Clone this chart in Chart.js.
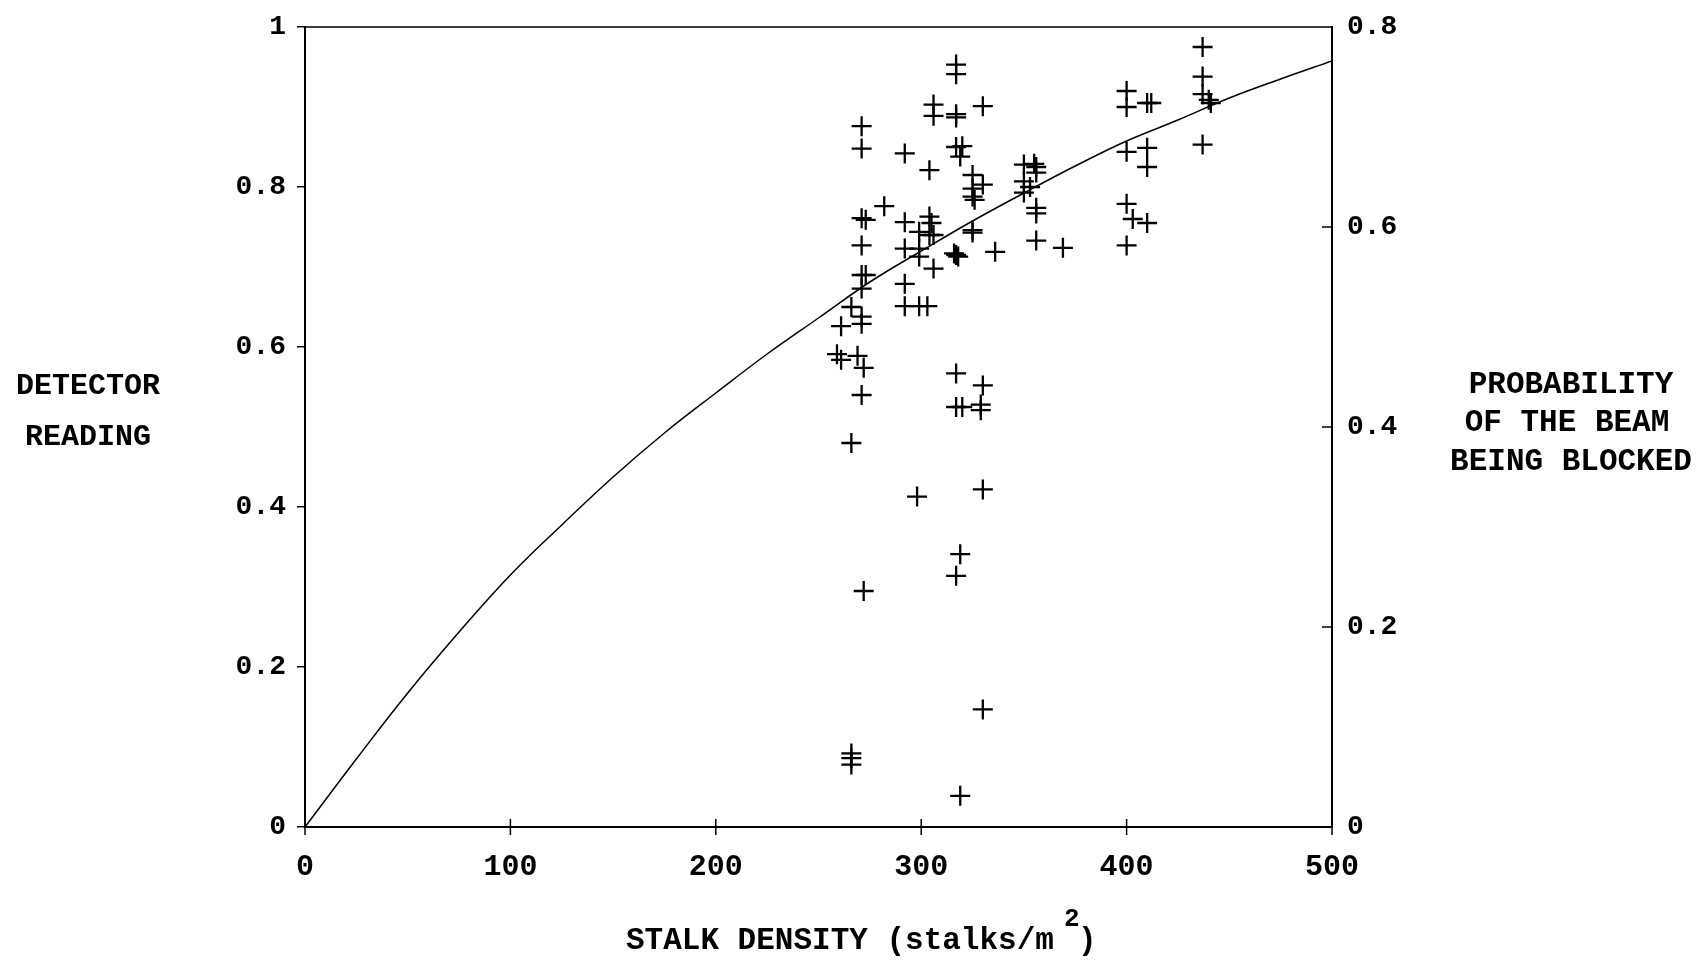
<!DOCTYPE html>
<html>
<head>
<meta charset="utf-8">
<title>Stalk density vs detector reading</title>
<script src="https://cdn.jsdelivr.net/npm/chart.js@4.4.1/dist/chart.umd.min.js"></script>
<style>
    html, body { margin: 0; padding: 0; background: #fff; }
    #wrap { position: relative; width: 1703px; height: 961px; }
</style>
</head>
<body>
<div id="wrap"><canvas id="densityChart"></canvas></div>
<script>
// ==================== data ====================

// measured points: stalk density (stalks/m2) and detector reading
const stalkDensity = [
    317, 317, 306, 306, 317, 317, 330,
    271, 271, 292, 304,
    317, 320, 319,
    325, 330, 325, 325, 326,
    350, 355, 356, 356, 350, 353, 350,
    356, 356, 356, 369, 336,
    282, 271, 273, 271,
    292, 304, 305, 304, 306, 299,
    292, 299, 299, 306,
    316, 317, 318, 325, 325,
    271, 273, 271, 292,
    292, 299, 303, 266, 271, 271, 261,
    259, 261, 269, 272, 271, 266,
    317, 330, 317, 320, 329, 329,
    298, 330, 319, 317, 272, 330, 266, 266, 266, 319,
    437, 437, 437, 440, 441, 437,
    400, 400, 410, 412, 400, 410, 410,
    400, 403, 410, 400
];
const detectorReading = [
    0.953, 0.941, 0.903, 0.889, 0.891, 0.887, 0.901,
    0.876, 0.848, 0.842, 0.821,
    0.850, 0.851, 0.838,
    0.815, 0.803, 0.798, 0.788, 0.784,
    0.828, 0.829, 0.825, 0.818, 0.807, 0.800, 0.793,
    0.774, 0.767, 0.733, 0.724, 0.719,
    0.776, 0.761, 0.759, 0.727,
    0.756, 0.763, 0.755, 0.740, 0.740, 0.744,
    0.723, 0.723, 0.713, 0.698,
    0.717, 0.715, 0.713, 0.746, 0.743,
    0.690, 0.690, 0.673, 0.679,
    0.651, 0.651, 0.651, 0.650, 0.638, 0.629, 0.626,
    0.591, 0.584, 0.589, 0.574, 0.540, 0.480,
    0.567, 0.552, 0.525, 0.525, 0.528, 0.521,
    0.413, 0.422, 0.341, 0.314, 0.295, 0.147, 0.092, 0.086, 0.078, 0.039,
    0.975, 0.938, 0.916, 0.909, 0.905, 0.853,
    0.920, 0.900, 0.905, 0.905, 0.844, 0.849, 0.825,
    0.779, 0.760, 0.755, 0.727
];

// probability of the beam being blocked (right axis)
const curveDensity = [0, 25, 50, 75, 100, 125, 150, 175, 200, 225, 250,
                      275, 300, 325, 350, 375, 400, 425, 450, 475, 500];
const blockProbability = [0, 0.068, 0.134, 0.195, 0.252, 0.302, 0.350, 0.394, 0.434, 0.473, 0.509,
                          0.545, 0.576, 0.606, 0.634, 0.661, 0.686, 0.707, 0.729, 0.748, 0.766];

const xTicks = [0, 100, 200, 300, 400, 500];
const readingTicks = [0, 0.2, 0.4, 0.6, 0.8, 1];
const probabilityTicks = [0, 0.2, 0.4, 0.6, 0.8];

// ==================== drawing ====================

const MONO = "'Liberation Mono', 'Courier New', monospace";

// fixed axis sizes so the plot box lands in the same place every time
function fixWidth(w) {
    return s => { s.width = w; s.paddingTop = 0; s.paddingBottom = 0; };
}

// box top, inward ticks on the right axis, crossing ticks on the x axis, titles
const frameAndTitles = {
    id: 'frameAndTitles',
    afterDraw(chart) {
        const ctx = chart.ctx;
        const area = chart.chartArea;
        const x = chart.scales.x, y2 = chart.scales.y2;
        ctx.save();
        ctx.strokeStyle = '#000';
        ctx.lineWidth = 1.5;
        ctx.beginPath();
        ctx.moveTo(area.left, area.top);
        ctx.lineTo(area.right, area.top);
        xTicks.forEach(v => {
            let px = x.getPixelForValue(v);
            ctx.moveTo(px, area.bottom - 8);
            ctx.lineTo(px, area.bottom + 8);
        });
        probabilityTicks.forEach(v => {
            let py = y2.getPixelForValue(v);
            ctx.moveTo(area.right - 10, py);
            ctx.lineTo(area.right, py);
        });
        ctx.stroke();

        ctx.fillStyle = '#000';
        ctx.textBaseline = 'middle';
        ctx.textAlign = 'center';
        ctx.font = 'bold 30px ' + MONO;
        ctx.fillText('DETECTOR', 88, 386);
        ctx.fillText('READING', 88, 437);
        ctx.font = 'bold 31px ' + MONO;
        ctx.fillText('PROBABILITY', 1571, 385);
        ctx.fillText('OF THE BEAM', 1567, 423);
        ctx.fillText('BEING BLOCKED', 1571, 462);

        ctx.textAlign = 'left';
        ctx.font = 'bold 31px ' + MONO;
        ctx.fillText('STALK DENSITY (stalks/m', 626, 941);
        ctx.font = 'bold 26px ' + MONO;
        ctx.fillText('2', 1064, 919);
        ctx.font = 'bold 31px ' + MONO;
        ctx.fillText(')', 1078, 941);
        ctx.restore();
    }
};

const chart = new Chart(document.getElementById('densityChart').getContext('2d'), {
    type: 'scatter',
    data: {
        datasets: [
            {
                label: 'detector',
                data: stalkDensity.map((d, i) => ({ x: d, y: detectorReading[i] })),
                yAxisID: 'y',
                pointStyle: 'cross',
                pointRadius: 10,
                borderColor: '#000',
                borderWidth: 2.3
            },
            {
                label: 'probability',
                data: curveDensity.map((d, i) => ({ x: d, y: blockProbability[i] })),
                yAxisID: 'y2',
                showLine: true,
                tension: 0.4,
                pointRadius: 0,
                borderColor: '#000',
                borderWidth: 1.5
            }
        ]
    },
    options: {
        responsive: true,
        maintainAspectRatio: false,
        animation: false,
        events: [],
        layout: { padding: { top: 27, left: 0, right: 0, bottom: 0 } },
        plugins: { legend: { display: false }, tooltip: { enabled: false } },
        scales: {
            x: {
                type: 'linear', min: 0, max: 500,
                afterFit: s => { s.height = 134; },
                afterBuildTicks: s => { s.ticks = xTicks.map(v => ({ value: v })); },
                grid: { display: false, drawTicks: false },
                border: { display: true, color: '#000', width: 2 },
                ticks: { color: '#000', padding: 22, maxRotation: 0, font: { family: MONO, size: 30, weight: 'bold' } }
            },
            y: {
                type: 'linear', position: 'left', min: 0, max: 1,
                afterFit: fixWidth(305),
                afterBuildTicks: s => { s.ticks = readingTicks.map(v => ({ value: v })); },
                grid: { display: true, drawOnChartArea: false, tickLength: 8, color: '#000', lineWidth: 1.5 },
                border: { display: true, color: '#000', width: 2 },
                ticks: { color: '#000', padding: 11, callback: v => String(v), font: { family: MONO, size: 28, weight: 'bold' } }
            },
            y2: {
                type: 'linear', position: 'right', min: 0, max: 0.8,
                afterFit: fixWidth(371),
                afterBuildTicks: s => { s.ticks = probabilityTicks.map(v => ({ value: v })); },
                grid: { display: false, drawTicks: false },
                border: { display: true, color: '#000', width: 2 },
                ticks: { color: '#000', padding: 15, callback: v => String(v), font: { family: MONO, size: 28, weight: 'bold' } }
            }
        }
    },
    plugins: [frameAndTitles]
});
</script>
</body>
</html>
